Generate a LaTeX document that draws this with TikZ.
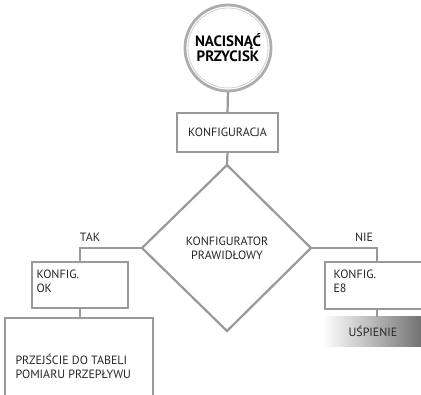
\documentclass[tikz,border=0pt]{standalone}
\usepackage{fontspec}
\setmainfont{PT Sans}
\usetikzlibrary{shapes.geometric}
\definecolor{ln}{gray}{0.6}
\tikzset{
  box/.style={draw=ln, line width=2.2pt, fill=white},
  conn/.style={draw=ln, line width=2.2pt},
  lbl/.style={font=\fontsize{12}{14}\selectfont, text=black!85},
}
\begin{document}
\begin{tikzpicture}[x=1pt,y=-1pt]
\useasboundingbox (0,0) rectangle (421,395);
\clip (0,0) rectangle (421,395);
% connectors behind
\draw[conn] (228,90) -- (227.5,113);
\draw[conn] (227.5,152) -- (227,165);
% circle
\node (start) [circle, draw=ln!80, line width=2.8pt, minimum size=86pt, inner sep=0pt, fill=white,
  font=\fontsize{15}{15}\selectfont\bfseries, align=center] at (228,48) {NACISNĄĆ\\PRZYCISK};
\draw[draw=ln!40, line width=0.9pt] (228,48) circle (40);
% konfiguracja
\node (konf) [box, minimum width=101pt, minimum height=39pt, lbl] at (227.5,132.5) {KONFIGURACJA};
% diamond
\coordinate (dc) at (227,248);
\coordinate (dt) at (227,165);
\coordinate (dl) at (142,248);
\coordinate (dr) at (311,248);
\coordinate (db) at (227,331);
\draw[conn, line join=miter] (dt) -- (dr) -- (db) -- (dl) -- cycle;
\node (dec) [lbl, align=center] at (dc) {KONFIGURATOR\\PRAWIDŁOWY};
% left branch
\coordinate (tl) at (80,248);
\node (ok) [box, minimum width=96pt, minimum height=46pt] at (80,285) {};
\node [lbl, anchor=north west, align=left] at (33,266) {KONFIG.\\OK};
\node (big) [box, minimum width=148pt, minimum height=100pt] at (79,368) {};
\node [lbl, anchor=west, align=left] at (12,366) {PRZEJŚCIE DO TABELI\\POMIARU PRZEPŁYWU};
\draw[conn] (dl) -- (tl) -- (ok.north);
\draw[conn] (ok.south) -- (big.north -| ok.south);
\node (tak) [lbl] at (90,237) {TAK};
% right branch
\coordinate (tr) at (377,248);
\node (e8) [box, minimum width=100pt, minimum height=47pt] at (375,285.5) {};
\node [lbl, anchor=north west, align=left] at (330,266) {KONFIG.\\E8};
\node (nie) [lbl] at (364,237) {NIE};
\draw[conn] (dr) -- (tr) -- (tr |- e8.north);
\shade[left color=white, right color=black!55] (323,317) rectangle (421,347);
\node (usp) [lbl] at (373,331) {UŚPIENIE};
\draw[conn] (tr |- e8.south) -- (377,317);
\end{tikzpicture}
\end{document}
